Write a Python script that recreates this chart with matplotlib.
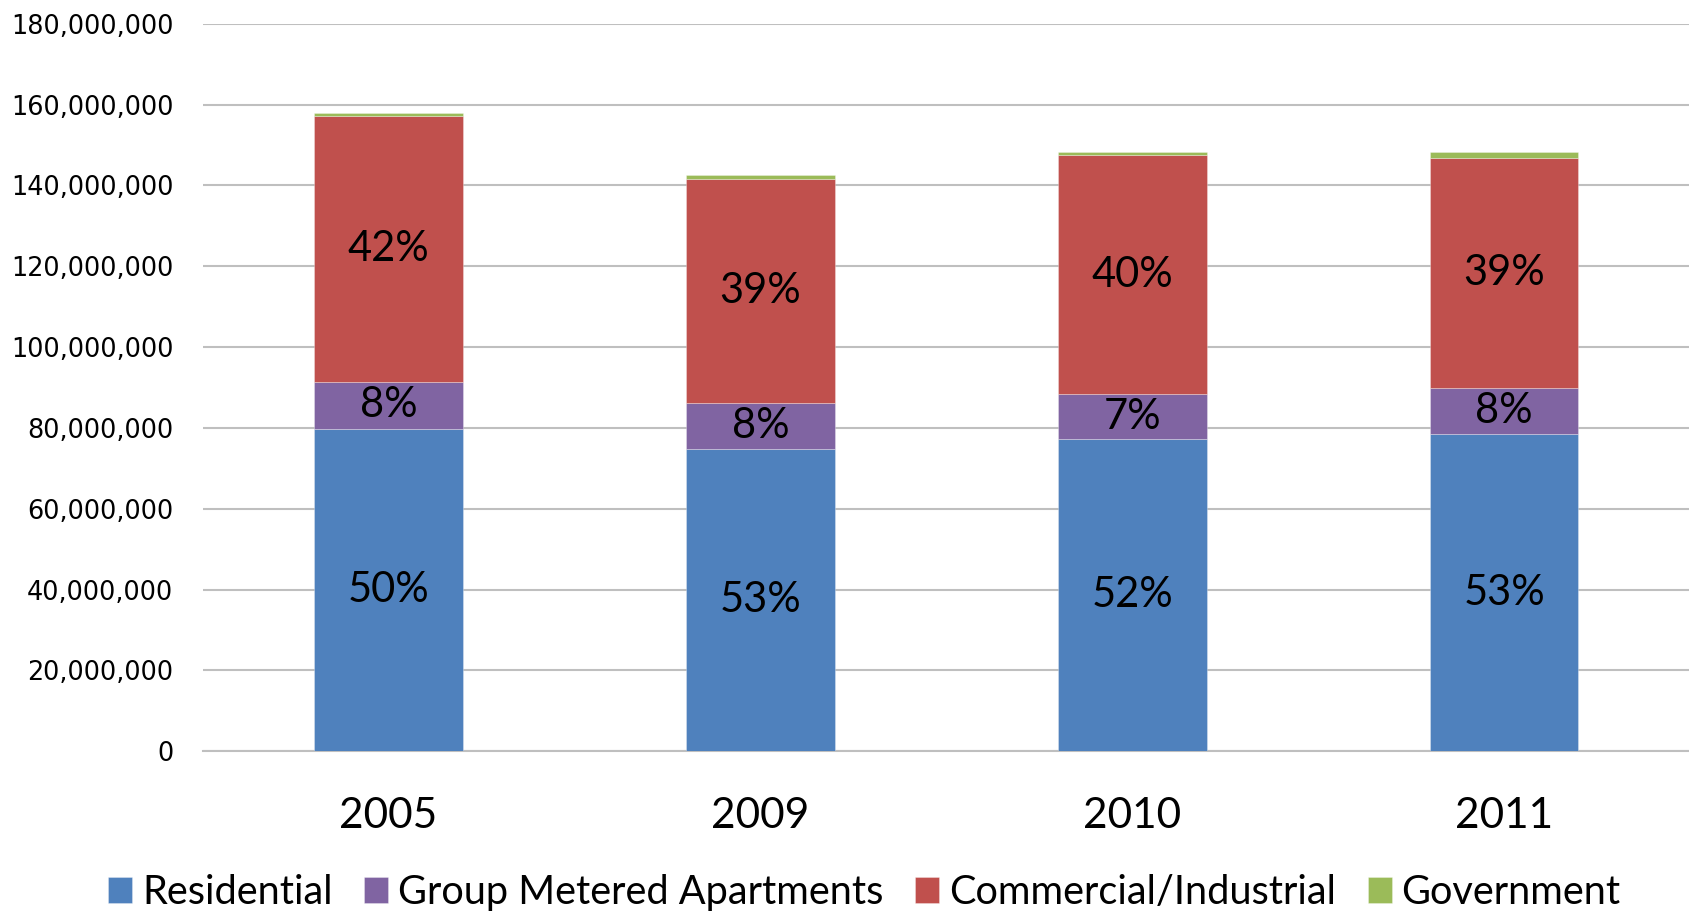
import matplotlib
matplotlib.use("Agg")
import matplotlib.pyplot as plt
from matplotlib.ticker import FuncFormatter, MultipleLocator
import numpy as np

years = ["2005", "2009", "2010", "2011"]
residential = [79.7e6, 74.9e6, 77.2e6, 78.5e6]
group_metered = [11.7e6, 11.3e6, 11.1e6, 11.3e6]
commercial = [65.8e6, 55.5e6, 59.3e6, 57.1e6]
government = [0.6e6, 0.8e6, 0.7e6, 1.4e6]

res_labels = ["50%", "53%", "52%", "53%"]
gma_labels = ["8%", "8%", "7%", "8%"]
com_labels = ["42%", "39%", "40%", "39%"]

series_names = ["Residential", "Group Metered Apartments", "Commercial/Industrial", "Government"]
colors = ["#4F81BD", "#8064A2", "#C0504D", "#9BBB59"]

fig = plt.figure(figsize=(16.9, 9.13), dpi=100)
ax = fig.add_axes([0.1199, 0.1772, 0.8801, 0.7968])

x = np.arange(len(years))
w = 0.4
series = [residential, group_metered, commercial, government]
bottom = np.zeros(len(years))
containers = []
for vals, c, name in zip(series, colors, series_names):
    bc = ax.bar(x, vals, w, bottom=bottom, color=c, label=name,
                edgecolor=(1, 1, 1, 0.35), linewidth=0.6, zorder=3)
    containers.append(bc)
    bottom = bottom + np.array(vals)

label_font = dict(family="Lato", fontsize=30, color="black")
for bc, labs in zip(containers[:3], [res_labels, gma_labels, com_labels]):
    ax.bar_label(bc, labels=labs, label_type="center", **label_font)

ax.set_xlim(-0.5, len(years) - 0.5)
ax.set_ylim(0, 180e6)
ax.yaxis.set_major_locator(MultipleLocator(20e6))
ax.yaxis.set_major_formatter(FuncFormatter(lambda v, p: f"{int(v):,}"))
ax.grid(axis="y", color="#BFBFBF", linewidth=1.5, zorder=0)
ax.set_axisbelow(True)
for s in ["top", "right", "left"]:
    ax.spines[s].set_visible(False)
ax.spines["bottom"].set_color("#BFBFBF")
ax.spines["bottom"].set_linewidth(1.5)

ax.set_xticks(x)
ax.set_xticklabels(years, family="Lato", fontsize=30.5)
ax.tick_params(axis="x", length=0, pad=33)
ax.tick_params(axis="y", length=0, pad=21, labelsize=18.4)
for t in ax.get_yticklabels():
    t.set_family("DejaVu Sans")

leg = fig.legend(loc="center", bbox_to_anchor=(0.5115, 0.0224), ncol=4, frameon=False,
                 prop=dict(family="Lato", size=28.6), handlelength=0.6, handleheight=0.6,
                 handletextpad=0.25, columnspacing=0.8)

fig.savefig("out.png", dpi=100)
